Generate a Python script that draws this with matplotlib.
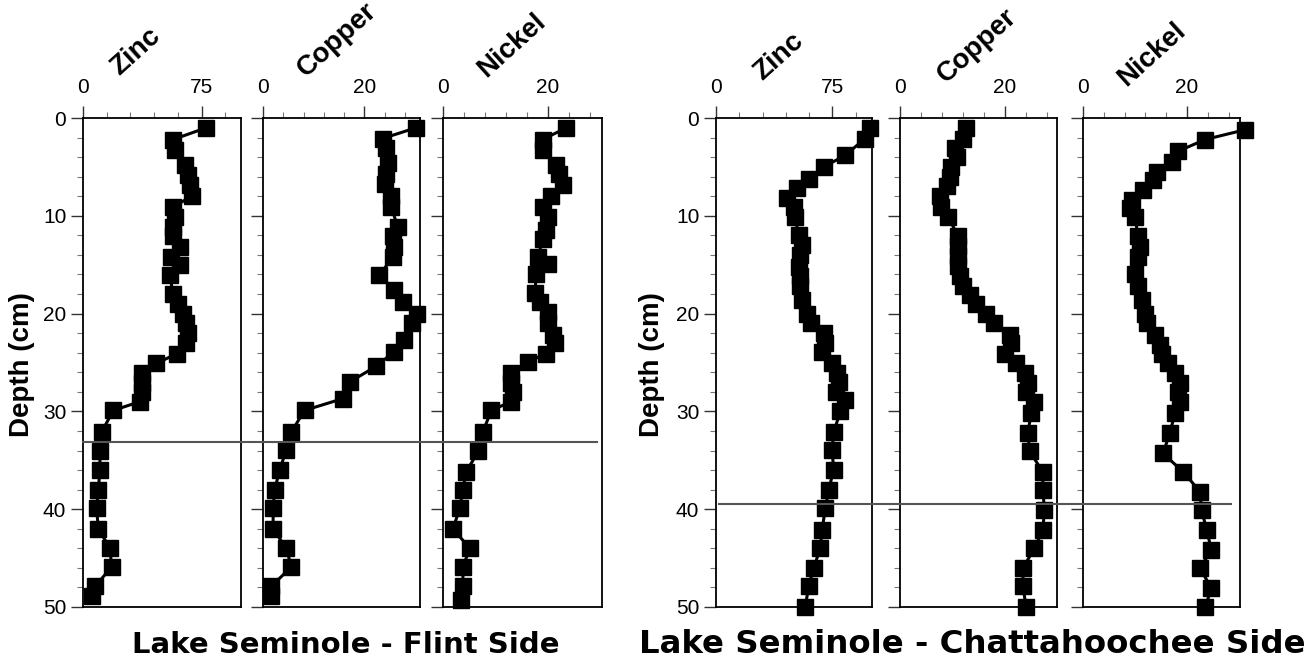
import matplotlib
matplotlib.use('Agg')
import matplotlib.pyplot as plt
from matplotlib.lines import Line2D
from matplotlib.transforms import blended_transform_factory
import numpy as np

W, H, DPI = 1314, 662, 100

# ---------------- Flint side ----------------
flint_zinc_depth = [1, 2.2, 3.3, 4.8, 5.8, 6.9, 8, 9.1, 10.1, 11.1, 12.1, 13.2, 14.2, 15, 16.1, 18, 19, 20, 21, 22,
                    23, 24.1, 25.1, 26.1, 27.1, 28, 29, 29.9, 32.1, 34.1, 36, 38, 39.9, 42, 44, 45.9, 47.9, 48.9]
flint_zinc = [78, 57, 58, 64.4, 66.5, 67.6, 68.7, 57, 58, 57, 57, 61.3, 56, 61.3, 55, 57, 60.2, 63.4, 65.5, 66.5,
              65.5, 59.2, 46.5, 37.1, 37.1, 37.1, 36, 19.2, 11.8, 10.7, 10.7, 9.7, 8.6, 9.7, 17.1, 18.1, 7.6, 5.5]

flint_copper_depth = [1, 2.1, 3.1, 4.6, 5.7, 6.7, 8, 9.1, 11.1, 12.1, 13.2, 14.2, 16.1, 17.6, 18.8, 20, 21, 22.7,
                      23.9, 25.4, 27, 28.7, 29.9, 32.1, 33.9, 36, 38, 39.9, 42, 44, 45.9, 47.9, 48.9]
flint_copper = [30.2, 23.6, 24.3, 24.6, 24.3, 24, 25.3, 25.3, 26.6, 25.6, 25.9, 25.6, 23, 25.9, 27.6, 30.5, 29.5,
                27.9, 25.9, 22.3, 17.1, 15.7, 8.2, 5.6, 4.6, 3.3, 2.3, 2.0, 2.0, 4.6, 5.6, 1.6, 1.6]

flint_nickel_depth = [1, 2.2, 3.3, 4.8, 5.7, 6.9, 8, 9.1, 10.1, 11.5, 12.4, 14.2, 14.9, 15.9, 17.9, 18.8, 19.8, 21,
                      22.2, 23, 24.1, 24.9, 26.1, 27.1, 28, 29, 29.9, 32.1, 34.1, 36.2, 38, 39.9, 42, 44, 45.9,
                      47.9, 49.3]
flint_nickel = [23.5, 19, 19, 21.6, 22.2, 22.9, 20.6, 19, 20, 19.7, 19, 18.1, 20, 17.8, 17.5, 18.4, 20, 20, 21,
                21.3, 19.7, 16.2, 13, 13, 13.3, 13, 9.2, 7.6, 6.7, 4.4, 3.8, 3.2, 1.9, 5.1, 3.8, 3.8, 3.5]

# ---------------- Chattahoochee side ----------------
chat_zinc_depth = [1, 2.1, 3.8, 5, 6.2, 7.2, 8.2, 9.1, 10.1, 12, 13, 14, 15.2, 16.2, 17.2, 18.6, 20, 21, 22, 23,
                   23.9, 25.1, 26.1, 27, 28, 28.8, 30, 32.1, 33.9, 36, 38, 39.9, 42.1, 44, 46, 47.9, 50]
chat_zinc = [99.5, 96, 83.4, 69.4, 59.7, 52.2, 45.7, 50, 51, 53.2, 55.4, 54.3, 53.2, 54.3, 54.3, 55.4, 58.6, 61,
             69.4, 70.5, 68.3, 74.8, 78, 79.1, 77, 83.4, 80.2, 75.8, 74.8, 75.8, 72.6, 70.5, 68.3, 67.2, 62.9,
             59.7, 57.5]

chat_copper_depth = [1, 2.1, 3.1, 4, 5, 6, 7, 8, 9.1, 10.1, 12.1, 13.1, 14.1, 15.1, 16.2, 17.2, 18.1, 19, 20, 21,
                     22.2, 23, 24.1, 25.1, 26.1, 27.1, 28, 29, 30.2, 32.2, 34.1, 36.2, 38, 40.1, 42.1, 44, 46,
                     47.9, 50]
chat_copper = [12.7, 12.1, 10.5, 10.8, 9.8, 9.5, 8.9, 7.6, 7.9, 9.2, 11.1, 11.1, 11.1, 11.1, 11.4, 12.1, 13.3,
               14.6, 16.5, 18, 21, 21.3, 20, 22.2, 23.8, 24.4, 24.1, 25.7, 25.1, 24.4, 24.8, 27.3, 27.3, 27.6,
               27.3, 25.7, 23.5, 23.5, 24.1]

chat_nickel_depth = [1.2, 2.2, 3.4, 4.5, 5.5, 6.3, 7.4, 8.4, 9.2, 10.1, 12.1, 13.2, 14.2, 15.9, 17.2, 18.6, 20, 21,
                     22.2, 23.2, 24.1, 25.1, 26.1, 27.1, 28, 29, 30.2, 32.2, 34.3, 36.2, 38.2, 40.1, 42.1, 44.2,
                     46, 48.1, 50]
chat_nickel = [31.2, 23.5, 18.3, 17.1, 14.2, 13.5, 11.6, 9.4, 9.0, 10, 10.6, 11, 10.6, 10, 10.6, 11.3, 11.9, 12.3,
               13.8, 14.8, 15.1, 16.4, 17.7, 18.7, 18.3, 18.7, 17.7, 16.7, 15.4, 19.3, 22.5, 22.8, 23.8, 24.7,
               22.5, 24.7, 23.5]

element_names = ["Zinc", "Copper", "Nickel"]
site_titles = ["Lake Seminole - Flint Side", "Lake Seminole - Chattahoochee Side"]
boundary_depths = [33.1, 39.5]
depth_label = "Depth (cm)"

plt.rcParams['font.family'] = ['Liberation Sans', 'DejaVu Sans']

fig = plt.figure(figsize=(W / DPI, H / DPI), dpi=DPI)

def px_axes(x0, x1, y0, y1):
    return fig.add_axes([x0 / W, 1 - y1 / H, (x1 - x0) / W, (y1 - y0) / H])

panels = [
    # (x0, x1, xmax, major, minor_step, depth, values, show_ylabels)
    (83, 241, 100, [0, 75], 15, flint_zinc_depth, flint_zinc, True),
    (263, 420, 31, [0, 20], 4, flint_copper_depth, flint_copper, False),
    (443, 602, 30.3, [0, 20], 4, flint_nickel_depth, flint_nickel, False),
    (716, 872, 100.5, [0, 75], 15, chat_zinc_depth, chat_zinc, True),
    (900, 1057, 30, [0, 20], 4, chat_copper_depth, chat_copper, False),
    (1083, 1240, 30.2, [0, 20], 4, chat_nickel_depth, chat_nickel, False),
]

axes = []
for (x0, x1, xmax, major, mstep, dep, val, showy) in panels:
    ax = px_axes(x0, x1, 118, 607)
    ax.plot(val, dep, color='black', lw=2.2, marker='s', ms=11.5, mfc='black', mec='black', clip_on=False, zorder=3)
    ax.set_xlim(0, xmax)
    ax.set_ylim(50, 0)
    ax.xaxis.tick_top()
    ax.set_xticks(major)
    ax.set_xticks(np.arange(0, xmax + 0.01, mstep), minor=True)
    ax.set_yticks(np.arange(0, 51, 10))
    ax.set_yticks(np.arange(0, 51, 2), minor=True)
    ax.tick_params(axis='both', which='major', direction='out', length=9, width=1.0, labelsize=15, color='#333333')
    ax.tick_params(axis='both', which='minor', direction='out', length=4, width=0.8, color='#777777')
    ax.tick_params(axis='x', which='major', pad=6)
    ax.tick_params(axis='y', which='major', pad=3, labelleft=showy)
    for s in ax.spines.values():
        s.set_linewidth(1.3)
        s.set_color('black')
    axes.append(ax)

# horizontal boundary lines
for ax_ref, yd, xa, xb in [(axes[0], boundary_depths[0], 83, 597), (axes[3], boundary_depths[1], 719, 1231)]:
    tr = blended_transform_factory(fig.transFigure, ax_ref.transData)
    fig.add_artist(Line2D([xa / W, xb / W], [yd, yd], transform=tr, color='#555555', lw=1.5, zorder=5))

# element names (rotated)
name_pos = [(119, 76), (306, 78), (486, 78), (762, 81), (946, 84), (1126, 87)]
for i, (px, py) in enumerate(name_pos):
    fig.text(px / W, 1 - py / H, element_names[i % 3], rotation=42, rotation_mode='anchor',
             ha='left', va='baseline', fontsize=20, fontweight='bold')

# depth labels
for px in [22, 652]:
    fig.text(px / W, 1 - 365 / H, depth_label, rotation=90, ha='center', va='center',
             fontsize=20, fontweight='bold')

# site titles
for cx, t, fs in zip([346, 972], site_titles, [21, 23.3]):
    fig.text(cx / W, 1 - 653 / H, t, ha='center', va='baseline', fontsize=fs, fontweight='bold',
             family=['DejaVu Sans'])

fig.savefig('out.png', dpi=DPI)
